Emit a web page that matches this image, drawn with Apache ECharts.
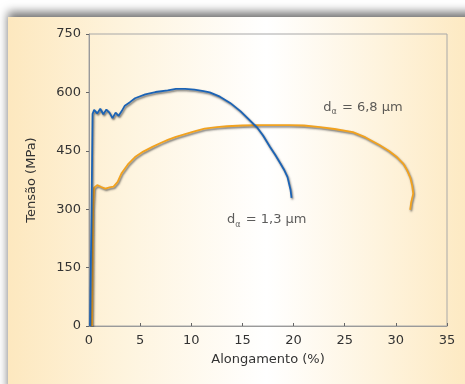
<!DOCTYPE html>
<html>
<head>
<meta charset="utf-8">
<script src="https://cdn.jsdelivr.net/npm/echarts@6/dist/echarts.min.js"></script>
<style>
  html, body { margin: 0; padding: 0; width: 465px; height: 384px; background: #ffffff; overflow: hidden; }
  #panel {
    position: absolute; left: 8px; top: 17px; width: 470px; height: 380px;
    background: linear-gradient(to right, #fde8bf 0%, #fef4de 25%, #ffffff 55%, #fef3dc 80%, #fde8bf 100%);
    box-shadow: 0 -5px 9px rgba(0,0,0,0.55);
  }
  #chart { position: absolute; left: 0; top: 0; width: 465px; height: 384px; }
</style>
</head>
<body>
<div id="panel"></div>
<div id="chart"></div>
<script>
// Tick values
const xTicks = [0, 5, 10, 15, 20, 25, 30, 35];
const yTicks = [0, 150, 300, 450, 600, 750];

// d_alpha = 1,3 µm (blue)
const blueElong = [0.1, 0.25, 0.35, 0.5, 0.8, 1.1, 1.4, 1.7, 2.0, 2.3, 2.6, 2.9, 3.2, 3.5, 4.0, 4.5, 5.5, 6.5, 7.7, 8.5, 9.4, 10.3, 11.2, 11.8, 12.8, 13.8, 14.8, 15.7, 16.4, 17.0, 17.7, 18.2, 18.7, 19.1, 19.4, 19.7, 19.8];
const blueStress = [0, 300, 545, 555, 546, 558, 544, 556, 548, 534, 548, 540, 552, 566, 575, 585, 595, 601, 605, 609, 609, 607, 603, 600, 589, 573, 552, 529, 511, 490, 460, 440, 418, 400, 383, 350, 329];

// d_alpha = 6,8 µm (orange)
const orangeElong = [0.3, 0.4, 0.5, 0.8, 1.2, 1.6, 2.0, 2.4, 2.8, 3.2, 3.8, 4.5, 5.3, 6.2, 7.0, 7.7, 8.5, 9.4, 10.3, 11.3, 12.5, 13.5, 15.0, 16.5, 18.0, 19.5, 21.0, 22.6, 24.0, 25.8, 27.0, 28.4, 29.3, 30.1, 30.7, 31.1, 31.4, 31.6, 31.7, 31.5, 31.4];
const orangeStress = [0, 300, 355, 362, 357, 353, 356, 358, 370, 393, 415, 434, 448, 460, 470, 478, 486, 493, 500, 507, 511, 513, 515, 516, 516, 516, 515, 511, 506, 498, 485, 465, 450, 434, 418, 400, 382, 360, 340, 318, 298];

// Annotation labels
const labelNames = ['6,8', '1,3'];
const labelPos = [[22.9, 562], [13.5, 272]];

const toPairs = (xs, ys) => xs.map((x, i) => [x, ys[i]]);
const FONT = 'DejaVu Sans';
const shadow = { shadowColor: 'rgba(50,50,50,0.7)', shadowBlur: 2, shadowOffsetX: 1, shadowOffsetY: 1.5 };

const chart = echarts.init(document.getElementById('chart'), null, { renderer: 'canvas' });
chart.setOption({
  backgroundColor: 'transparent',
  animation: false,
  grid: { left: 89, right: 18, top: 34, bottom: 58, show: true, borderColor: '#a8a8a8', borderWidth: 1, backgroundColor: 'transparent' },
  xAxis: {
    type: 'value', min: xTicks[0], max: xTicks[xTicks.length - 1], interval: 5,
    name: 'Alongamento (%)', nameLocation: 'middle', nameGap: 27,
    nameTextStyle: { fontFamily: FONT, fontSize: 13, color: '#333' },
    axisLine: { lineStyle: { color: '#9a9a9a', width: 1 } },
    axisTick: { show: true, inside: true, length: 3, lineStyle: { color: '#666' } },
    axisLabel: { fontFamily: FONT, fontSize: 13, color: '#333', margin: 8 },
    splitLine: { show: false }
  },
  yAxis: {
    type: 'value', min: yTicks[0], max: yTicks[yTicks.length - 1], interval: 150,
    name: 'Tensão (MPa)', nameLocation: 'middle', nameGap: 51, nameRotate: 90,
    nameTextStyle: { fontFamily: FONT, fontSize: 13, color: '#333' },
    axisLine: { show: true, lineStyle: { color: '#9a9a9a', width: 1 } },
    axisTick: { show: true, inside: false, length: 3, lineStyle: { color: '#666' } },
    axisLabel: { fontFamily: FONT, fontSize: 13, color: '#333', margin: 8 },
    splitLine: { show: false }
  },
  series: [
    {
      type: 'line', data: toPairs(orangeElong, orangeStress), showSymbol: false, symbol: 'none',
      lineStyle: Object.assign({ color: '#f2a21e', width: 1.8 }, shadow), z: 3
    },
    {
      type: 'line', data: toPairs(blueElong, blueStress), showSymbol: false, symbol: 'none',
      lineStyle: Object.assign({ color: '#1b63b5', width: 1.8 }, shadow), z: 4
    },
    {
      type: 'scatter', symbolSize: 0, silent: true, z: 5,
      data: labelPos.map((p, i) => ({ value: p, name: labelNames[i] })),
      label: {
        show: true, position: 'right', distance: 0,
        formatter: p => '{d|d}{sub|α}{t| = ' + p.name + ' µm}',
        rich: {
          d: { fontFamily: FONT, fontSize: 13, color: '#333' },
          sub: { fontFamily: FONT, fontSize: 8, color: '#333', padding: [9, 1, 0, 0] },
          t: { fontFamily: FONT, fontSize: 13, color: '#333' }
        }
      }
    }
  ]
});
</script>
</body>
</html>
